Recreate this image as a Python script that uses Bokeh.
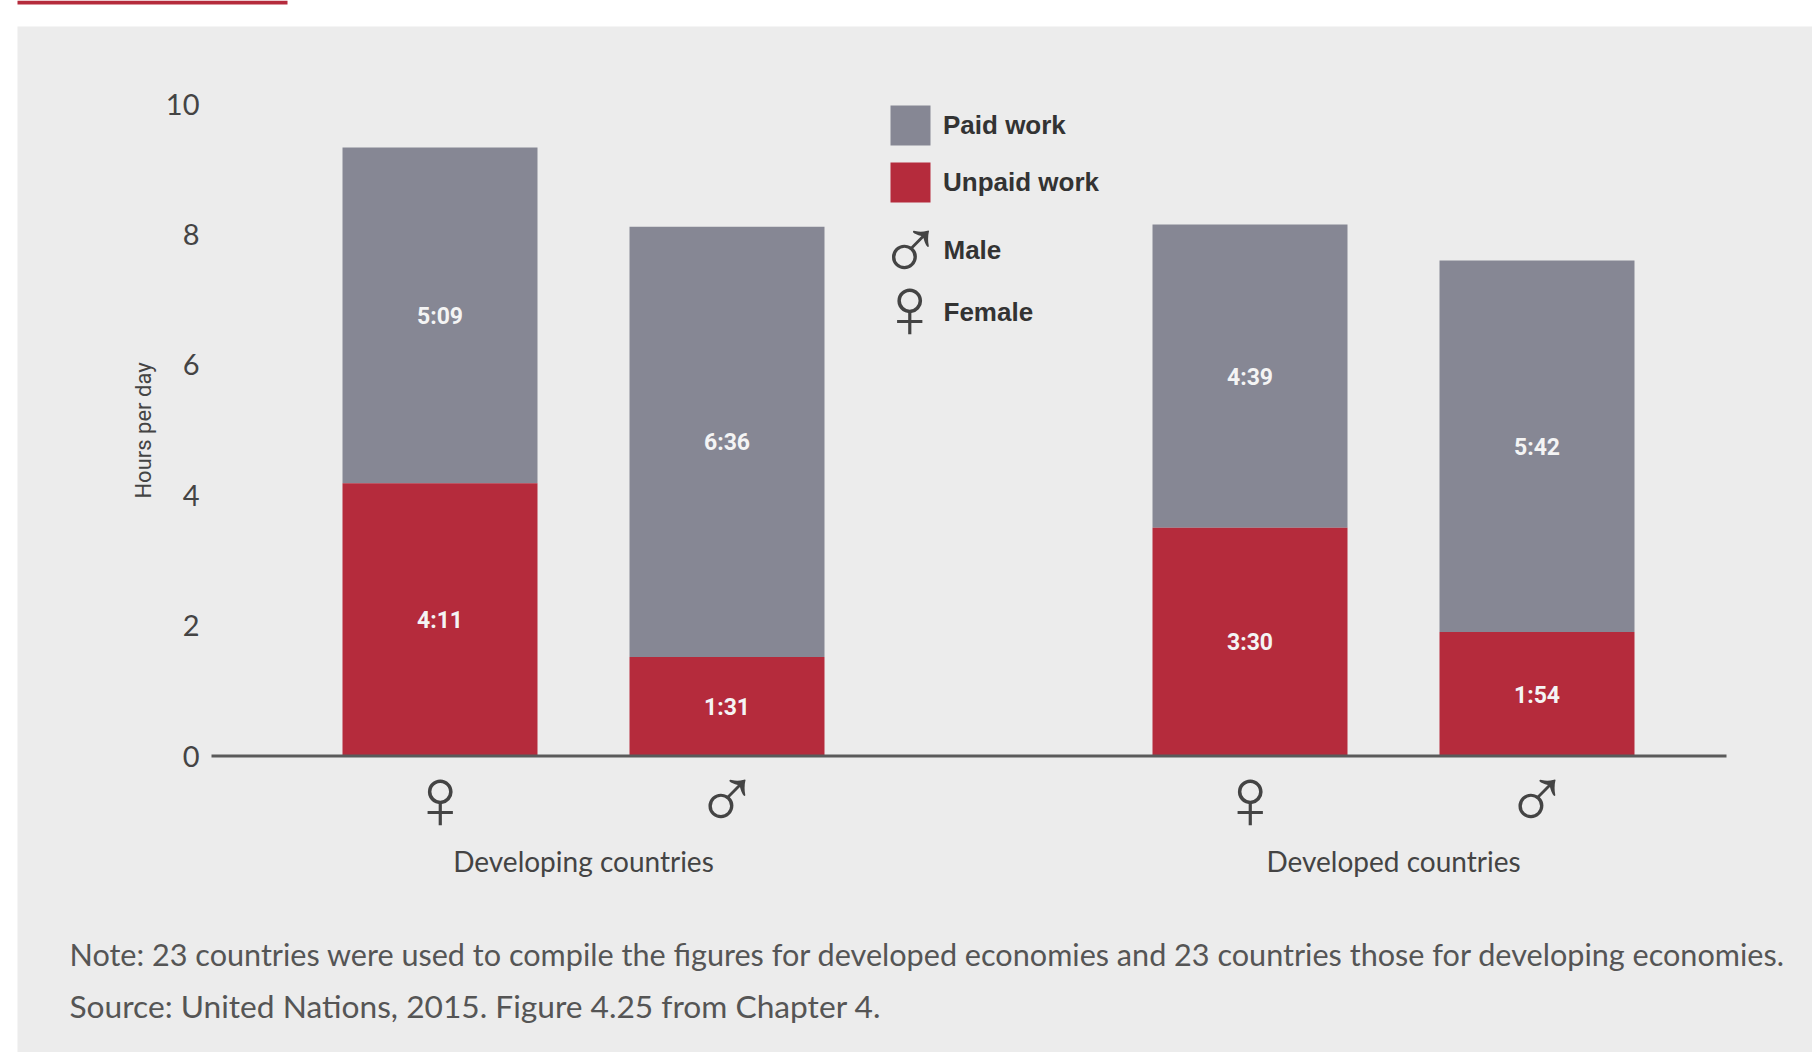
from bokeh.embed import file_html
from bokeh.resources import INLINE
from bokeh.plotting import figure
from bokeh.core.properties import value
from bokeh.models import (Range1d, FixedTicker, LinearAxis, Label, BoxAnnotation,
                          ColumnDataSource, Legend, LegendItem)

# --- data -----------------------------------------------------------------
categories = ["Developing countries", "Developed countries"]
sex_labels = ["\u2640", "\u2642", "\u2640", "\u2642"]
unpaid_labels = ["4:11", "1:31", "3:30", "1:54"]
paid_labels = ["5:09", "6:36", "4:39", "5:42"]
y_ticks = [0, 2, 4, 6, 8, 10]
note_lines = [
    "Note: 23 countries were used to compile the figures for developed economies and 23 countries those for developing economies.",
    "Source: United Nations, 2015. Figure 4.25 from Chapter 4.",
]

def hours(t):
    h, m = t.split(":")
    return int(h) + int(m) / 60

unpaid = [hours(t) for t in unpaid_labels]
paid = [hours(t) for t in paid_labels]
total = [a + b for a, b in zip(unpaid, paid)]

# --- layout ---------------------------------------------------------------
W, H = 1812, 1052
Y0, PX_PER_H = 755.5, 65.2
BG, GREY, RED, INK = "#ececec", "#868794", "#b52b3c", "#444444"
SANS, COND = "Lato", "Roboto"

group_x = [583.0, 1393.0]
half_gap = 143.5
x = [g + s * half_gap for g in group_x for s in (-1, 1)]

p = figure(width=W, height=H, output_backend="svg", toolbar_location=None,
           x_range=Range1d(0, W), y_range=Range1d(-(H - Y0) / PX_PER_H, Y0 / PX_PER_H),
           x_axis_location=None, y_axis_location=None,
           min_border=0, background_fill_color="white", border_fill_color="white",
           outline_line_color=None)
p.grid.visible = False

def canvas_box(left, right, top, bottom, color):
    p.add_layout(BoxAnnotation(left=left, right=right, top=top, bottom=bottom,
                               left_units="canvas", right_units="canvas",
                               top_units="canvas", bottom_units="canvas",
                               fill_color=color, fill_alpha=1, line_color=None,
                               level="underlay"))

canvas_box(17, W, 26, H, BG)
canvas_box(17, 287, 0, 4, RED)

# --- bars -----------------------------------------------------------------
src = ColumnDataSource(dict(x=x, unpaid=unpaid, total=total, unpaid_labels=unpaid_labels,
                            paid_labels=paid_labels,
                            unpaid_mid=[u / 2 for u in unpaid],
                            paid_mid=[u + q / 2 for u, q in zip(unpaid, paid)]))
r_paid = p.vbar(x="x", width=195, bottom="unpaid", top="total", source=src,
                fill_color=GREY, line_color=None)
r_unpaid = p.vbar(x="x", width=195, bottom=0, top="unpaid", source=src,
                  fill_color=RED, line_color=None)
p.segment(x0=[211], x1=[1726], y0=[0], y1=[0], line_color="#5a5a5a", line_width=3)
for col, mid in (("unpaid_labels", "unpaid_mid"), ("paid_labels", "paid_mid")):
    p.text(x="x", y=mid, text=col, source=src, text_color="#f4f4f4", text_align="center",
           text_baseline="middle", text_font_size="23px", text_font_style="bold",
           text_font=value(COND), y_offset=1)

# --- axes (labels pulled into the plot area) --------------------------------
yax = LinearAxis(ticker=FixedTicker(ticks=y_ticks),
                 axis_line_color=None, major_tick_line_color=None, minor_tick_line_color=None,
                 major_tick_in=0, major_tick_out=0,
                 major_label_text_font=SANS, major_label_text_font_size="29px",
                 major_label_text_color=INK, major_label_standoff=-199)
p.add_layout(yax, "left")

xax = LinearAxis(ticker=FixedTicker(ticks=x),
                 major_label_overrides={v: s for v, s in zip(x, sex_labels)},
                 axis_line_color=None, major_tick_line_color=None, minor_tick_line_color=None,
                 major_tick_in=0, major_tick_out=0,
                 major_label_text_font="Liberation Sans",
                 major_label_text_font_size="88px", major_label_text_color=INK,
                 major_label_standoff=-304)
p.add_layout(xax, "below")

gax = LinearAxis(ticker=FixedTicker(ticks=group_x),
                 major_label_overrides={v: s for v, s in zip(group_x, categories)},
                 axis_line_color=None, major_tick_line_color=None, minor_tick_line_color=None,
                 major_tick_in=0, major_tick_out=0,
                 major_label_text_font=SANS, major_label_text_font_size="28px",
                 major_label_text_color=INK, major_label_standoff=-209)
p.add_layout(gax, "below")

# --- legend ---------------------------------------------------------------
legend = Legend(items=[LegendItem(label="Paid work", renderers=[r_paid]),
                       LegendItem(label="Unpaid work", renderers=[r_unpaid])],
                location=(885, 845), glyph_width=50, glyph_height=50, label_height=40,
                spacing=7, padding=0, margin=0, border_line_color=None,
                background_fill_alpha=0, label_standoff=8,
                label_text_font="Liberation Sans", label_text_font_size="26px",
                label_text_font_style="bold", label_text_color="#333333")
p.add_layout(legend, "center")

def canvas_label(px, py, text, **kw):
    p.add_layout(Label(x=px, y=py, x_units="canvas", y_units="canvas", text=text,
                       text_baseline="middle", **kw))

bold = dict(text_font="Liberation Sans", text_font_size="26px", text_font_style="bold",
            text_color="#333333")
canvas_label(943, 249, "Male", **bold)
canvas_label(943, 311, "Female", **bold)
sym = dict(text_font="Liberation Sans", text_font_size="88px", text_color=INK, text_align="center")
canvas_label(910, 249, "\u2642", **sym)
canvas_label(909, 307, "\u2640", **sym)
canvas_label(143, 430, "Hours per day", text_font=COND, text_font_size="22px", text_color=INK,
             text_align="center", angle=1.5708)

canvas_label(69, 953.5, note_lines[0], text_font=SANS, text_font_size="30.6px", text_color="#555555")
canvas_label(69, 1005, note_lines[1], text_font=SANS, text_font_size="31.7px", text_color="#555555")

open("out.html", "w").write(file_html(p, INLINE))
